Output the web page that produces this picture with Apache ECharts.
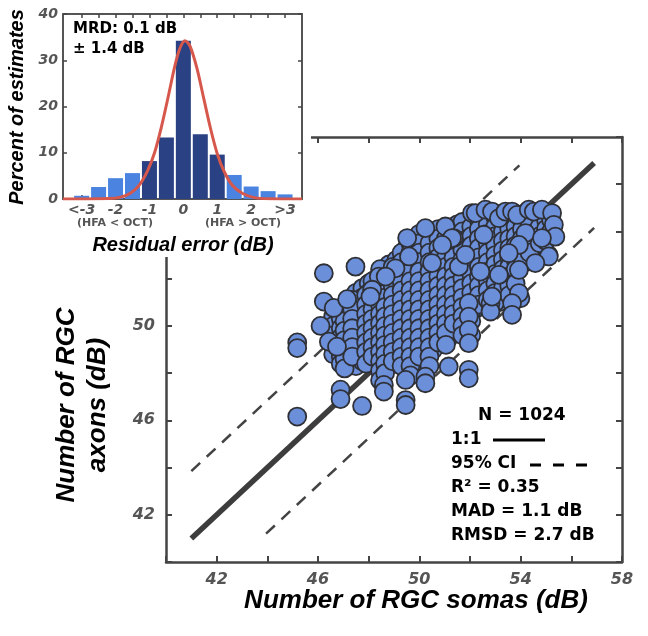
<!DOCTYPE html>
<html>
<head>
<meta charset="utf-8">
<script src="https://cdn.jsdelivr.net/npm/echarts@6/dist/echarts.min.js"></script>
<style>
  html, body { margin: 0; padding: 0; background: #fff; }
  #chart { width: 648px; height: 636px; }
</style>
</head>
<body>
<div id="chart"></div>
<script>
// residual histogram (inset)
var histX = [-3, -2.5, -2, -1.5, -1, -0.5, 0, 0.5, 1, 1.5, 2, 2.5, 3];
var histY = [0.7, 2.6, 4.5, 5.6, 8.2, 13.3, 34.2, 14.0, 9.6, 5.2, 2.7, 1.7, 1.0];
var histLabels = ['<-3', '-2', '-1', '0', '1', '2', '>3'];
// fitted curve
var fitX = [-3.55, -2.2, -1.85, -1.55, -1.3, -1.05, -0.85, -0.65, -0.45, -0.25, -0.1, 0.05, 0.2, 0.4, 0.6, 0.8, 1.0, 1.2, 1.45, 1.75, 2.1, 2.5, 3.5];
var fitY = [0, 0.1, 0.4, 1.3, 3.0, 6.2, 10, 15.5, 22, 28.8, 32.6, 34.2, 33.0, 28.3, 21.8, 15.3, 9.8, 6.0, 2.9, 1.2, 0.3, 0.05, 0];

// main scatter: somas (x) vs axons (y), dB
var loosePoints = [
  [45.18, 49.3], [45.18, 49.06], [45.18, 46.16], [46.1, 50.0], [46.23, 52.23], [46.23, 51.03],
  [46.62, 50.76], [46.43, 49.33], [46.75, 49.12], [46.89, 47.3], [46.89, 46.9], [47.15, 51.13],
  [47.48, 52.51], [47.74, 46.61], [48.6, 47.5], [48.6, 47.22], [49.46, 47.71], [49.46, 46.86],
  [49.46, 46.65], [50.24, 47.85], [50.24, 47.57], [51.16, 48.28], [51.95, 48.14], [51.95, 47.78],
  [48.4, 52.09], [49.59, 52.94], [49.52, 53.72], [50.24, 54.14], [51.03, 54.21], [51.36, 53.72],
  [52.08, 54.78], [52.22, 54.78], [52.61, 54.92], [52.87, 54.84], [53.14, 54.56], [53.4, 54.84],
  [53.66, 54.84], [53.86, 54.7], [54.32, 54.92], [54.52, 54.84], [54.84, 54.92], [55.24, 54.78],
  [55.31, 54.28], [55.37, 53.78], [55.11, 52.94], [54.58, 52.66], [53.93, 52.37], [53.99, 51.17],
  [53.93, 51.39], [53.66, 50.96], [53.66, 50.47], [52.81, 50.96], [52.81, 50.61], [52.87, 51.24],
  [51.95, 50.96], [51.95, 50.39], [51.95, 49.83], [51.95, 49.27], [54.19, 53.93], [54.84, 53.72],
  [53.93, 53.43], [52.54, 53.86], [51.29, 53.72], [50.9, 53.43], [50.5, 52.66], [51.56, 52.51],
  [52.41, 52.3], [53.14, 52.16], [53.53, 53.08], [51.82, 53.01], [48.14, 51.53], [48.07, 51.24],
  [49.06, 52.44], [48.67, 52.09]
];
var denseColumns = [
  [46.6, [50.4, 50.0, 49.6, 48.8]],
  [46.9, [50.3, 49.9, 49.5, 49.1, 48.7, 48.4]],
  [47.2, [50.8, 50.4, 50.0, 49.6, 49.2, 48.8, 48.4]],
  [47.5, [51.4, 51.0, 50.6, 50.2, 49.8, 49.4, 49.0, 48.6, 48.3]],
  [47.75, [51.6, 51.2, 50.8, 50.4, 50.0, 49.6, 49.2, 48.8, 48.5]],
  [48.0, [51.8, 51.4, 51.0, 50.6, 50.2, 49.8, 49.4, 49.0, 48.6]],
  [48.3, [52.0, 51.6, 51.2, 50.8, 50.4, 50.0, 49.6, 49.2, 48.8, 48.4]],
  [48.55, [52.3, 51.9, 51.5, 51.1, 50.7, 50.3, 49.9, 49.5, 49.1, 48.7, 48.3, 47.9]],
  [48.8, [52.6, 52.2, 51.8, 51.4, 51.0, 50.6, 50.2, 49.8, 49.4, 49.0, 48.6]],
  [49.1, [52.8, 52.4, 52.0, 51.6, 51.2, 50.8, 50.4, 50.0, 49.6, 49.2, 48.8, 48.4]],
  [49.5, [53.3, 52.9, 52.5, 52.1, 51.7, 51.3, 50.9, 50.5, 50.1, 49.7, 49.3, 48.9, 48.5, 48.1]],
  [49.8, [53.4, 53.0, 52.6, 52.2, 51.8, 51.4, 51.0, 50.6, 50.2, 49.8, 49.4, 49.0, 48.6]],
  [50.24, [53.7, 53.3, 52.9, 52.5, 52.1, 51.7, 51.3, 50.9, 50.5, 50.1, 49.7, 49.3, 48.9, 48.5, 48.1]],
  [50.55, [53.8, 53.4, 53.0, 52.6, 52.2, 51.8, 51.4, 51.0, 50.6, 50.2, 49.8, 49.4, 49.0]],
  [50.9, [54.0, 53.6, 53.2, 52.8, 52.4, 52.0, 51.6, 51.2, 50.8, 50.4, 50.0, 49.6]],
  [51.16, [53.9, 53.5, 53.1, 52.7, 52.3, 51.9, 51.5, 51.1, 50.7, 50.3, 49.9, 49.5]],
  [51.5, [54.3, 53.9, 53.5, 53.1, 52.7, 52.3, 51.9, 51.5, 51.1, 50.7, 50.3, 49.9]],
  [51.95, [54.5, 54.1, 53.7, 53.3, 52.9, 52.5, 52.1, 51.7, 51.3]],
  [52.2, [54.3, 53.9, 53.5, 53.1, 52.7, 52.3, 51.9, 51.5, 51.1, 50.7]],
  [52.5, [54.6, 54.2, 53.4, 53.0, 52.6, 52.2, 51.8, 51.4, 51.0]],
  [52.85, [54.4, 54.0, 53.6, 53.2, 52.8, 52.4, 52.0, 51.6]],
  [53.14, [54.1, 53.7, 53.3, 52.9, 52.5, 51.8, 51.4, 51.0]],
  [53.4, [54.3, 53.9, 53.5, 53.1, 52.7, 52.3, 51.9, 51.5]],
  [53.66, [54.4, 54.0, 53.6, 53.2, 52.8, 52.4, 52.0]],
  [53.93, [54.3, 53.93, 53.0, 52.7]],
  [54.2, [54.8, 54.4, 53.5, 53.1, 52.7]],
  [54.45, [54.49, 54.1, 53.7, 53.3, 52.9]],
  [54.65, [54.3, 53.9, 53.5, 53.1]],
  [54.9, [54.56, 54.07, 53.3]],
  [55.1, [54.3, 53.0]]
];
var offsetColumns = [
  [47.05, [50.6, 50.2, 49.8, 49.4, 49.0, 48.6, 48.2]],
  [47.35, [51.1, 50.7, 50.3, 49.9, 49.5, 49.1, 48.7]],
  [47.9, [51.3, 50.9, 50.5, 50.1, 49.7, 49.3, 48.9, 48.4]],
  [48.15, [51.9, 51.5, 51.1, 50.7, 50.3, 49.9, 49.5, 49.1, 48.7]],
  [48.45, [52.4, 51.8, 51.3, 50.9, 50.5, 50.1, 49.7, 49.3, 48.9, 48.5, 48.1, 47.7]],
  [48.65, [51.7, 51.2, 50.8, 50.4, 50.0, 49.6, 49.2, 48.8, 48.4, 48.0]],
  [48.95, [52.5, 52.1, 51.7, 51.3, 50.9, 50.5, 50.1, 49.7, 49.3, 48.9, 48.5]],
  [49.3, [53.1, 52.7, 52.3, 51.9, 51.5, 51.1, 50.7, 50.3, 49.9, 49.5, 49.1, 48.7, 48.3]],
  [49.65, [53.5, 53.1, 52.7, 52.3, 51.9, 51.5, 51.1, 50.7, 50.3, 49.9, 49.5, 49.1, 48.7, 48.3, 47.9]],
  [50.0, [53.9, 53.5, 53.1, 52.7, 52.3, 51.9, 51.5, 51.1, 50.7, 50.3, 49.9, 49.5, 49.1, 48.7]],
  [50.4, [53.5, 53.1, 52.7, 52.3, 51.9, 51.5, 51.1, 50.7, 50.3, 49.9, 49.5, 49.1, 48.7, 48.3]],
  [50.75, [54.1, 53.7, 53.3, 52.9, 52.5, 52.1, 51.7, 51.3, 50.9, 50.5, 50.1, 49.7, 49.3]],
  [51.05, [53.7, 53.3, 52.9, 52.5, 52.1, 51.7, 51.3, 50.9, 50.5, 50.1, 49.7, 49.2]],
  [51.35, [54.1, 53.3, 52.9, 52.5, 52.1, 51.7, 51.3, 50.9, 50.5, 50.1]],
  [51.7, [54.4, 54.0, 53.6, 53.2, 52.8, 52.4, 52.0, 51.6, 51.2, 50.8, 50.4, 50.0, 49.6]],
  [52.05, [54.2, 53.8, 53.4, 53.0, 52.6, 52.2, 51.8, 51.4, 51.0, 50.6, 50.2, 49.6]],
  [52.35, [54.5, 54.1, 53.7, 53.3, 52.9, 52.5, 52.1, 51.7, 51.3, 50.9]],
  [52.7, [54.7, 54.3, 53.9, 53.5, 53.1, 52.7, 52.3, 51.9, 51.5, 51.1]],
  [53.0, [54.6, 54.2, 53.8, 53.4, 53.0, 52.6, 52.2, 51.8, 51.4, 51.0]],
  [53.3, [54.6, 54.0, 53.6, 53.2, 52.8, 52.4, 52.0, 51.6]],
  [53.55, [54.5, 54.1, 53.7, 53.3, 52.9, 52.5, 52.1, 51.7, 51.3]],
  [53.8, [54.6, 54.2, 53.8, 53.4, 53.1, 52.8, 52.4, 51.8]],
  [54.05, [54.5, 54.1, 53.7, 53.3, 52.9]],
  [54.35, [54.7, 54.3, 53.9, 53.5, 53.1]],
  [54.75, [54.7, 54.2, 53.8, 53.5]],
  [55.0, [54.5, 54.1, 53.6]],
  [55.2, [54.5, 54.0]]
];
var identityLine = [[41, 41], [56.9, 56.9]];
var ciUpper = [[41, 43.85], [53.95, 56.8]];
var ciLower = [[43.95, 41.2], [56.9, 54.15]];

var scatterData = [];
denseColumns.concat(offsetColumns).forEach(function (c) {
  c[1].forEach(function (y) { scatterData.push([c[0], y]); });
});
scatterData = scatterData.concat(loosePoints);

var chart = echarts.init(document.getElementById('chart'));

var AX = '#444';
var tickFont = { fontFamily: 'DejaVu Sans', fontWeight: 'bold', fontStyle: 'italic', color: '#555' };
var titleFont = 'italic bold 26px "Liberation Sans", Arial, sans-serif';
var boldText = 'bold 17px "DejaVu Sans", sans-serif';

function mainAxis(pos, labels) {
  return {
    type: 'value', gridIndex: 0, position: pos, min: 40, max: 58, interval: 2,
    axisLine: { show: true, onZero: false, lineStyle: { color: AX, width: 2.5 } },
    axisTick: { show: true, inside: true, length: 6, lineStyle: { color: AX, width: 2 } },
    splitLine: { show: false },
    axisLabel: labels ? Object.assign({
      fontSize: 16, margin: pos === 'left' ? 11 : 10,
      formatter: function (v) { return (v - 42) % 4 === 0 ? String(v) : ''; }
    }, tickFont) : { show: false }
  };
}
function insetX(pos, labels) {
  return {
    type: 'value', gridIndex: 1, position: pos, min: -3.55, max: 3.5, z: 10,
    axisLine: { show: true, onZero: false, lineStyle: { color: '#555', width: 2 } },
    axisTick: { show: true, inside: true, length: 4, customValues: histX, lineStyle: { color: '#444', width: 1.5 } },
    splitLine: { show: false },
    axisLabel: labels ? Object.assign({
      fontSize: 14, margin: 4, customValues: [-3, -2, -1, 0, 1, 2, 3],
      formatter: function (v) { return histLabels[Math.round(v) + 3]; }
    }, tickFont) : { show: false }
  };
}
function insetY(pos, labels) {
  return {
    type: 'value', gridIndex: 1, position: pos, min: 0, max: 40, interval: 10, z: 10,
    axisLine: { show: true, onZero: false, lineStyle: { color: '#555', width: 2 } },
    axisTick: { show: true, inside: true, length: 4, lineStyle: { color: '#444', width: 1.5 } },
    splitLine: { show: false },
    axisLabel: labels ? Object.assign({ fontSize: 14, margin: 5 }, tickFont) : { show: false }
  };
}

var option = {
  animation: false,
  backgroundColor: '#fff',
  grid: [
    { left: 166, right: 26, top: 137, bottom: 74 },
    { left: 63, top: 14, width: 239, height: 185, z: 10 }
  ],
  xAxis: [mainAxis('bottom', true), mainAxis('top', false), insetX('bottom', true), insetX('top', false)],
  yAxis: [mainAxis('left', true), mainAxis('right', false), insetY('left', true), insetY('right', false)],
  series: [
    {
      type: 'line', xAxisIndex: 0, yAxisIndex: 0, data: identityLine, symbol: 'none', z: 1,
      lineStyle: { color: '#3d3d3d', width: 5.5 }
    },
    {
      type: 'line', xAxisIndex: 0, yAxisIndex: 0, data: ciUpper, symbol: 'none', z: 1,
      lineStyle: { color: '#444', width: 2.5, type: [12, 9] }
    },
    {
      type: 'line', xAxisIndex: 0, yAxisIndex: 0, data: ciLower, symbol: 'none', z: 1,
      lineStyle: { color: '#444', width: 2.5, type: [12, 9] }
    },
    {
      type: 'scatter', xAxisIndex: 0, yAxisIndex: 0, data: scatterData, symbolSize: 18, z: 2,
      itemStyle: { color: '#6c8fd9', borderColor: '#2f3036', borderWidth: 1.8, opacity: 1 }
    },
    {
      type: 'bar', xAxisIndex: 2, yAxisIndex: 2, barWidth: 15, z: 11,
      data: histX.map(function (x, i) {
        return { value: [x, histY[i]], itemStyle: { color: Math.abs(x) <= 1 ? '#2a4183' : '#4a84e0' } };
      })
    },
    {
      type: 'line', xAxisIndex: 2, yAxisIndex: 2, symbol: 'none', smooth: 0.3, z: 12,
      data: fitX.map(function (x, i) { return [x, fitY[i]]; }),
      lineStyle: { color: '#d6574b', width: 3 }
    }
  ],
  graphic: { elements: [
    { type: 'rect', shape: { x: 0, y: 0, width: 311, height: 257 }, style: { fill: '#fff' }, z: 5, silent: true },
    { type: 'text', x: 416, y: 601, z: 20, style: { text: 'Number of RGC somas (dB)', font: titleFont, fill: '#000', textAlign: 'center', textVerticalAlign: 'middle' } },
    { type: 'text', x: 82, y: 405, rotation: Math.PI / 2, z: 20, style: { text: 'Number of RGC\naxons (dB)', font: titleFont, lineHeight: 31, fill: '#000', textAlign: 'center', textVerticalAlign: 'middle' } },
    { type: 'text', x: 183, y: 245, z: 20, style: { text: 'Residual error (dB)', font: 'italic bold 20px "Liberation Sans", Arial, sans-serif', fill: '#000', textAlign: 'center', textVerticalAlign: 'middle' } },
    { type: 'text', x: 17, y: 107, rotation: Math.PI / 2, z: 20, style: { text: 'Percent of estimates', font: 'italic bold 20px "Liberation Sans", Arial, sans-serif', fill: '#000', textAlign: 'center', textVerticalAlign: 'middle' } },
    { type: 'text', x: 115, y: 223, z: 20, style: { text: '(HFA < OCT)', font: 'bold 11px "DejaVu Sans", sans-serif', fill: '#555', textAlign: 'center', textVerticalAlign: 'middle' } },
    { type: 'text', x: 243, y: 223, z: 20, style: { text: '(HFA > OCT)', font: 'bold 11px "DejaVu Sans", sans-serif', fill: '#555', textAlign: 'center', textVerticalAlign: 'middle' } },
    { type: 'text', x: 73, y: 29, z: 20, style: { text: 'MRD: 0.1 dB', font: 'bold 15px "DejaVu Sans", sans-serif', fill: '#000', textAlign: 'left', textVerticalAlign: 'middle' } },
    { type: 'text', x: 73, y: 49, z: 20, style: { text: '± 1.4 dB', font: 'bold 15px "DejaVu Sans", sans-serif', fill: '#000', textAlign: 'left', textVerticalAlign: 'middle' } },
    { type: 'text', x: 478, y: 416, z: 20, style: { text: 'N = 1024', font: boldText, fill: '#000', textAlign: 'left', textVerticalAlign: 'middle' } },
    { type: 'text', x: 451, y: 440, z: 20, style: { text: '1:1', font: boldText, fill: '#000', textAlign: 'left', textVerticalAlign: 'middle' } },
    { type: 'line', z: 20, shape: { x1: 493, y1: 440, x2: 545, y2: 440 }, style: { stroke: '#000', lineWidth: 3 } },
    { type: 'text', x: 451, y: 464, z: 20, style: { text: '95% CI', font: boldText, fill: '#000', textAlign: 'left', textVerticalAlign: 'middle' } },
    { type: 'line', z: 20, shape: { x1: 530, y1: 465, x2: 598, y2: 465 }, style: { stroke: '#000', lineWidth: 3, lineDash: [11, 12] } },
    { type: 'text', x: 451, y: 488, z: 20, style: { text: 'R² = 0.35', font: boldText, fill: '#000', textAlign: 'left', textVerticalAlign: 'middle' } },
    { type: 'text', x: 451, y: 512, z: 20, style: { text: 'MAD = 1.1 dB', font: boldText, fill: '#000', textAlign: 'left', textVerticalAlign: 'middle' } },
    { type: 'text', x: 451, y: 536, z: 20, style: { text: 'RMSD = 2.7 dB', font: boldText, fill: '#000', textAlign: 'left', textVerticalAlign: 'middle' } }
  ] }
};
chart.setOption(option);
</script>
</body>
</html>
